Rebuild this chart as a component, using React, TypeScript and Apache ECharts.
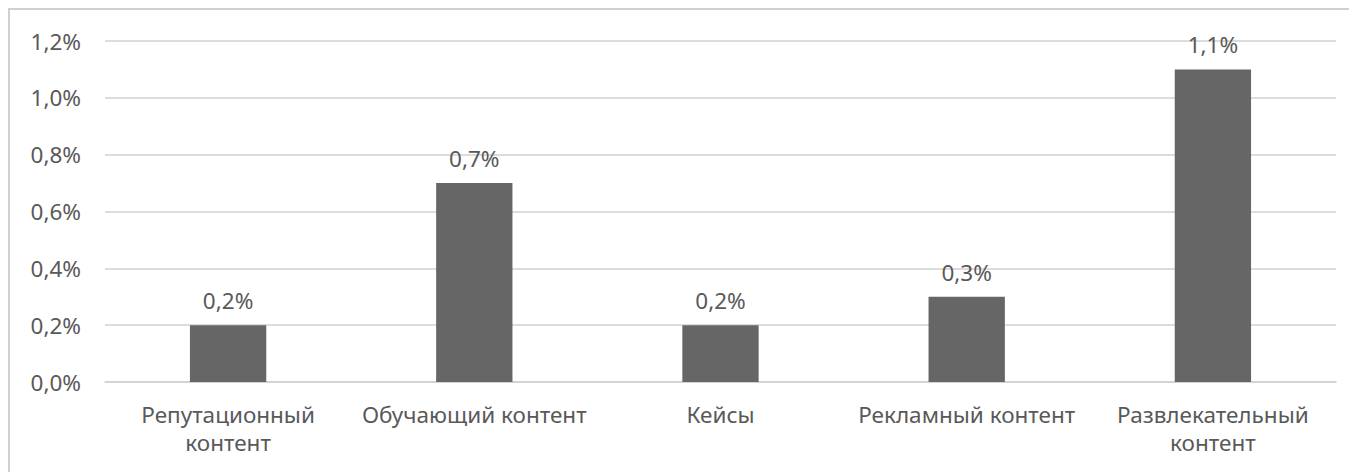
import React, { useEffect, useRef } from "react";
import * as echarts from "echarts";

const categories = [
  "Репутационный\nконтент",
  "Обучающий контент",
  "Кейсы",
  "Рекламный контент",
  "Развлекательный\nконтент",
];
const values = [0.2, 0.7, 0.2, 0.3, 1.1];

const fmt = (v: number) => v.toFixed(1).replace(".", ",") + "%";
const FONT = "'Noto Sans', sans-serif";
const FS = 22.5;

export default function App() {
  const ref = useRef<HTMLDivElement>(null);
  useEffect(() => {
    const chart = echarts.init(ref.current!, null, { renderer: "svg" });
    chart.setOption({
      animation: false,
      backgroundColor: "#ffffff",
      textStyle: { fontFamily: FONT },
      graphic: [
        {
          type: "rect",
          shape: { x: 1, y: 1, width: 3000, height: 3000 },
          style: { fill: "none", stroke: "#d0d0d0", lineWidth: 2 },
          silent: true,
        },
      ],
      grid: { left: 97, right: 21, top: 33, bottom: 90, containLabel: false },
      xAxis: {
        type: "category",
        data: categories,
        axisLine: { show: true, lineStyle: { color: "#d0d0d0", width: 1.5 } },
        axisTick: { show: false },
        axisLabel: {
          color: "#595959",
          fontSize: FS,
          fontFamily: FONT,
          margin: 18,
          lineHeight: 28,
          interval: 0,
        },
      },
      yAxis: {
        type: "value",
        min: 0,
        max: 1.2,
        interval: 0.2,
        axisLine: { show: false },
        axisTick: { show: false },
        splitLine: { lineStyle: { color: "#d0d0d0", width: 1.5 } },
        axisLabel: {
          color: "#595959",
          fontSize: FS,
          fontFamily: FONT,
          margin: 24,
          formatter: (v: number) => fmt(v),
        },
      },
      series: [
        {
          type: "bar",
          data: values,
          barWidth: "31%",
          itemStyle: { color: "#666666" },
          label: {
            show: true,
            position: "top",
            distance: 13,
            color: "#595959",
            fontSize: FS,
            fontFamily: FONT,
            formatter: (p: any) => fmt(p.value),
          },
        },
      ],
    });
    return () => chart.dispose();
  }, []);
  return <div ref={ref} style={{ width: 1349, height: 464 }} />;
}
